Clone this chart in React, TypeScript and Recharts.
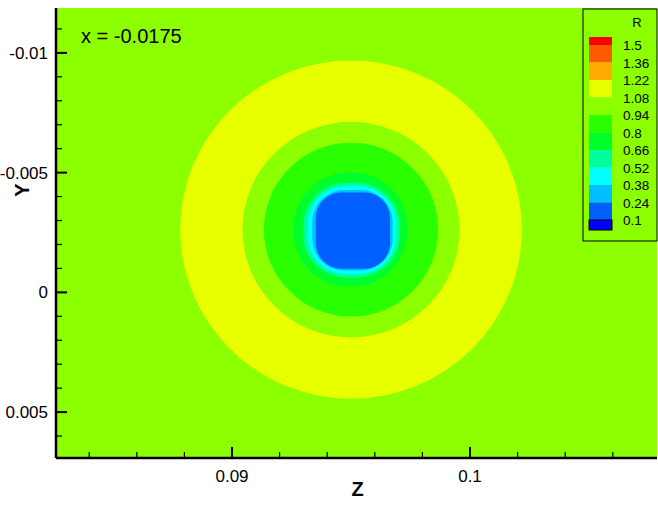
import React from 'react';
import { ComposedChart, XAxis, YAxis, ReferenceArea, Scatter } from 'recharts';

// Legend levels (top to bottom) and band colours (one more band than levels)
const legendLevels = [1.5, 1.36, 1.22, 1.08, 0.94, 0.8, 0.66, 0.52, 0.38, 0.24, 0.1];
const legendColors = ['#FF0000', '#FF5A00', '#FFAA00', '#E8FF00', '#8CFF00', '#2AFF00', '#00FF2A', '#00FF9C', '#00FFFF', '#00BFFF', '#0060FF', '#0000FF'];

// Background band (0.94 - 1.08)
const backgroundColor = '#8CFF00';

// Contour bands, outermost first: centre, half-extents in data units, colour, corner roundness
const contourCenterZ = [0.095, 0.095, 0.095, 0.09498, 0.09502, 0.09504, 0.09506, 0.09508];
const contourCenterY = [-0.00262, -0.00262, -0.00262, -0.00262, -0.0026, -0.0026, -0.00259, -0.00258];
const contourHalfZ = [0.00718, 0.00456, 0.00366, 0.00238, 0.00203, 0.00186, 0.00169, 0.00156];
const contourHalfY = [0.00706, 0.0045, 0.00363, 0.00238, 0.00198, 0.00184, 0.00168, 0.00159];
const contourColors = ['#E8FF00', '#8CFF00', '#2AFF00', '#00FF2A', '#00FF9C', '#00FFFF', '#00BFFF', '#0060FF'];
const contourRound = [1, 1, 1, 0.96, 0.9, 0.85, 0.8, 0.68];

// Axes
const zDomain = [0.082605, 0.107857];
const yDomain = [-0.011875, 0.006917];
const zMajor = [0.09, 0.1];
const zMinor = [0.084, 0.086, 0.088, 0.092, 0.094, 0.096, 0.098, 0.102, 0.104, 0.106];
const yMajor = [-0.01, -0.005, 0, 0.005];
const yMinor = [-0.011, -0.009, -0.008, -0.007, -0.006, -0.004, -0.003, -0.002, -0.001, 0.001, 0.002, 0.003, 0.004, 0.006];

const sliceLabel = 'x = -0.0175';
const legendTitle = 'R';

const FONT = '"Liberation Sans", Arial, sans-serif';

const centerPoints = [{ z: contourCenterZ[0], y: contourCenterY[0] }];

const XTick = (props: any) => {
  const { x, y, payload } = props;
  const major = zMajor.includes(payload.value);
  return (
    <g>
      <line x1={x} x2={x} y1={y} y2={y - (major ? 11 : 6)} stroke="#000" strokeWidth={major ? 2 : 1.2} />
      {major && (
        <text x={x} y={y + 24} textAnchor="middle" fontSize={17} fontFamily={FONT} fill="#000">
          {String(payload.value)}
        </text>
      )}
    </g>
  );
};

const YTick = (props: any) => {
  const { x, y, payload } = props;
  const major = yMajor.includes(payload.value);
  return (
    <g>
      <line x1={x} x2={x + (major ? 11 : 6)} y1={y} y2={y} stroke="#000" strokeWidth={major ? 2 : 1.2} />
      {major && (
        <text x={x - 8} y={y + 6} textAnchor="end" fontSize={17} fontFamily={FONT} fill="#000">
          {String(payload.value)}
        </text>
      )}
    </g>
  );
};

const makeShape = (color: string, round: number) => (p: any) => {
  const { x, y, width, height } = p;
  return <rect x={x} y={y} width={width} height={height} rx={(width / 2) * round} ry={(height / 2) * round} fill={color} stroke="none" />;
};

const Legend = () => {
  const left = 583;
  const top = 9;
  const sw = { x: 589, w: 23 };
  const first = 45; // y of first level boundary
  const step = 17.5;
  return (
    <g>
      <rect x={left} y={top} width={74} height={232} fill={backgroundColor} stroke="#000" strokeWidth={1} />
      <text x={637} y={27} textAnchor="middle" fontSize={13} fontFamily={FONT} fill="#000">{legendTitle}</text>
      {legendColors.map((c, i) => {
        const y0 = i === 0 ? first - 8 : first + (i - 1) * step;
        const y1 = i === legendColors.length - 1 ? first + (i - 1) * step + 10 : first + i * step;
        const last = i === legendColors.length - 1;
        return (
          <rect key={i} x={sw.x} y={y0} width={sw.w} height={y1 - y0} fill={c} stroke={last ? '#000' : 'none'} strokeWidth={last ? 1 : 0} />
        );
      })}
      {legendLevels.map((v, i) => (
        <text key={v} x={623} y={first + i * step + 5} fontSize={13.5} fontFamily={FONT} fill="#000">{String(v)}</text>
      ))}
    </g>
  );
};

export default function App() {
  return (
    <div style={{ position: 'absolute', left: 0, top: 0, width: 658, height: 509, background: '#fff' }}>
      <ComposedChart width={658} height={509} margin={{ top: 8, right: 1, left: 0, bottom: 0 }}>
        <XAxis
          type="number"
          dataKey="z"
          domain={zDomain}
          allowDataOverflow
          ticks={[...zMinor, ...zMajor].sort((a, b) => a - b)}
          interval={0}
          height={51}
          tickSize={0}
          tickMargin={0}
          tickLine={false}
          axisLine={{ stroke: '#000', strokeWidth: 2.5 }}
          tick={<XTick />}
        />
        <YAxis
          type="number"
          dataKey="y"
          domain={yDomain}
          allowDataOverflow
          reversed
          ticks={[...yMinor, ...yMajor].sort((a, b) => a - b)}
          interval={0}
          width={56}
          tickSize={0}
          tickMargin={0}
          tickLine={false}
          axisLine={{ stroke: '#000', strokeWidth: 2.5 }}
          tick={<YTick />}
        />
        <ReferenceArea x1={zDomain[0]} x2={zDomain[1]} y1={yDomain[0]} y2={yDomain[1]} fill={backgroundColor} fillOpacity={1} stroke="none" ifOverflow="hidden" />
        {contourColors.map((c, i) => (
          <ReferenceArea
            key={i}
            x1={contourCenterZ[i] - contourHalfZ[i]}
            x2={contourCenterZ[i] + contourHalfZ[i]}
            y1={contourCenterY[i] - contourHalfY[i]}
            y2={contourCenterY[i] + contourHalfY[i]}
            fill={c}
            fillOpacity={1}
            stroke="none"
            shape={makeShape(c, contourRound[i])}
          />
        ))}
        <Scatter data={centerPoints} dataKey="y" isAnimationActive={false} shape={() => <g />} />
      </ComposedChart>
      <svg width={658} height={509} style={{ position: 'absolute', left: 0, top: 0, pointerEvents: 'none' }}>
        <text x={81} y={43} fontSize={20} fontFamily={FONT} fill="#000">{sliceLabel}</text>
        <text x={357.5} y={496} textAnchor="middle" fontSize={20} fontWeight="bold" fontFamily={FONT} fill="#000">Z</text>
        <text transform="translate(29,190) rotate(-90)" textAnchor="middle" fontSize={20} fontWeight="bold" fontFamily={FONT} fill="#000">Y</text>
        <Legend />
      </svg>
    </div>
  );
}
